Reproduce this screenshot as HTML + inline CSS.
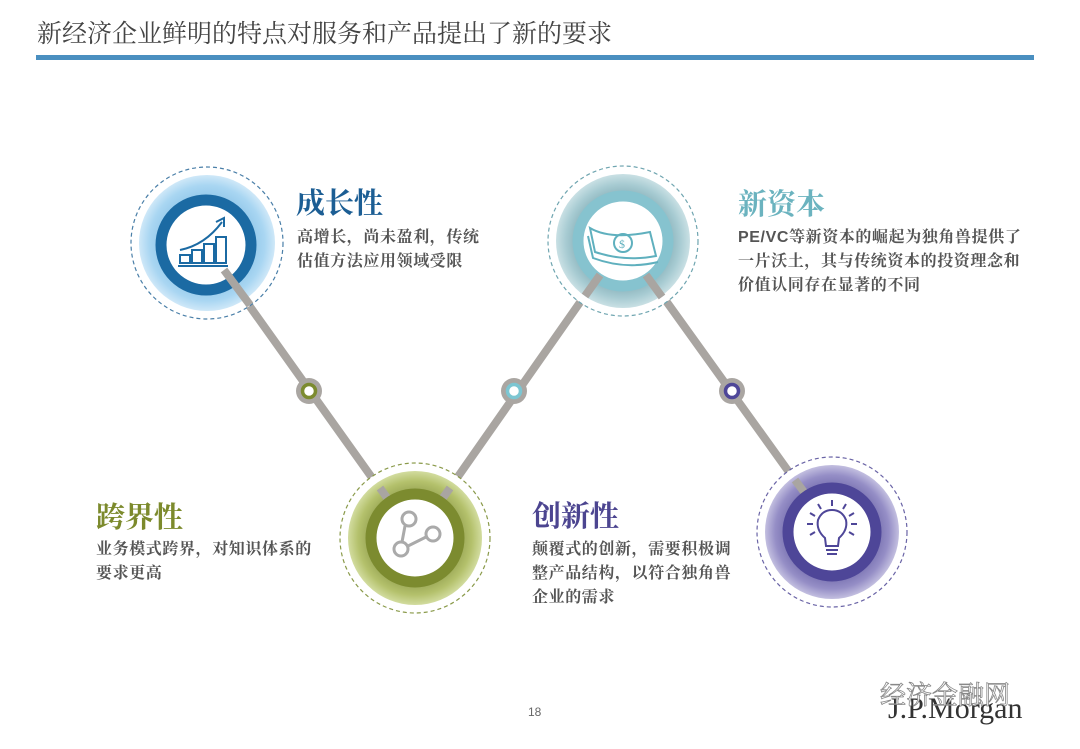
<!DOCTYPE html>
<html><head><meta charset="utf-8"><style>
html,body{margin:0;padding:0;background:#fff;}
body{width:1080px;height:744px;overflow:hidden;}
svg text{font-family:"Liberation Serif","Noto Serif CJK SC",serif;}
</style></head><body>
<svg width="1080" height="744" viewBox="0 0 1080 744" xmlns="http://www.w3.org/2000/svg">
<defs>
<radialGradient id="gb" cx="50%" cy="50%" r="50%"><stop offset="0.6" stop-color="#8cc4e8"/><stop offset="0.85" stop-color="#a9d6f2"/><stop offset="1" stop-color="#cfe8f8"/></radialGradient>
<radialGradient id="gt" cx="50%" cy="50%" r="50%"><stop offset="0.6" stop-color="#7fa9b2"/><stop offset="0.85" stop-color="#a7cbd2"/><stop offset="1" stop-color="#c9e0e4"/></radialGradient>
<radialGradient id="gg" cx="50%" cy="50%" r="50%"><stop offset="0.6" stop-color="#8d9a4a"/><stop offset="0.85" stop-color="#b4c16c"/><stop offset="1" stop-color="#d2dc9f"/></radialGradient>
<radialGradient id="gp" cx="50%" cy="50%" r="50%"><stop offset="0.6" stop-color="#6d66a8"/><stop offset="0.85" stop-color="#958ec6"/><stop offset="1" stop-color="#c3bfe0"/></radialGradient>
</defs>
<text x="37" y="42" font-size="25" fill="#444">新经济企业鲜明的特点对服务和产品提出了新的要求</text>
<rect x="36" y="55" width="998" height="5" fill="#4a8fc0"/>

<polyline points="206,245 415,538 623,241 832,532" fill="none" stroke="#a9a5a1" stroke-width="8"/>

<!-- C1 -->
<circle cx="207" cy="243" r="76" fill="#fff" stroke="#4a7fa8" stroke-width="1.2" stroke-dasharray="4,3"/>
<circle cx="207" cy="243" r="68" fill="url(#gb)"/>
<circle cx="206" cy="245" r="45" fill="#fff" stroke="#1b6aa3" stroke-width="11"/>
<line x1="224" y1="270" x2="250" y2="305" stroke="#a9a5a1" stroke-width="8"/>
<g fill="none" stroke="#1b6aa3" stroke-width="2">
<rect x="180" y="255" width="10" height="8"/><rect x="192" y="250" width="10" height="13"/><rect x="204" y="244" width="10" height="19"/><rect x="216" y="237" width="10" height="26"/>
<line x1="178" y1="266" x2="228" y2="266"/>
<path d="M180 250 Q205 245 222 222"/><path d="M216 222 L224 218 L224 227"/>
</g>

<!-- C2 -->
<circle cx="623" cy="241" r="75" fill="#fff" stroke="#6fa5b0" stroke-width="1.2" stroke-dasharray="4,3"/>
<circle cx="623" cy="241" r="67" fill="url(#gt)"/>
<circle cx="623" cy="241" r="45" fill="#fff" stroke="#86c3cf" stroke-width="11"/>
<line x1="600" y1="275" x2="585" y2="296" stroke="#a9a5a1" stroke-width="8"/>
<line x1="646" y1="275" x2="662" y2="297" stroke="#a9a5a1" stroke-width="8"/>
<g fill="none" stroke="#5fb0be" stroke-width="2">
<path d="M590 228 Q610 240 650 232 L656 256 Q625 262 595 252 Z"/>
<path d="M588 236 L593 258 Q625 270 658 262"/>
<circle cx="623" cy="243" r="9"/>
</g>
<text x="619" y="248" font-size="12" fill="#5fb0be" font-family="Liberation Sans">$</text>

<!-- C3 -->
<circle cx="415" cy="538" r="75" fill="#fff" stroke="#8a9a4a" stroke-width="1.2" stroke-dasharray="4,3"/>
<circle cx="415" cy="538" r="67" fill="url(#gg)"/>
<line x1="380" y1="488" x2="395" y2="509" stroke="#a9a5a1" stroke-width="8"/>
<line x1="450" y1="488" x2="435" y2="509" stroke="#a9a5a1" stroke-width="8"/>
<circle cx="415" cy="538" r="44" fill="#fff" stroke="#7c8b2f" stroke-width="11"/>
<g fill="none" stroke="#aaa" stroke-width="3">
<circle cx="409" cy="519" r="7"/><circle cx="433" cy="534" r="7"/><circle cx="401" cy="549" r="7"/>
<line x1="405" y1="526" x2="402" y2="542"/><line x1="408" y1="546" x2="426" y2="537"/>
</g>

<!-- C4 -->
<circle cx="832" cy="532" r="75" fill="#fff" stroke="#6a64a6" stroke-width="1.2" stroke-dasharray="4,3"/>
<circle cx="832" cy="532" r="67" fill="url(#gp)"/>
<line x1="795" y1="480" x2="810" y2="500" stroke="#a9a5a1" stroke-width="8"/>
<circle cx="832" cy="532" r="44" fill="#fff" stroke="#4e4698" stroke-width="11"/>
<g fill="none" stroke="#4e4698" stroke-width="2">
<path d="M826 546 L825 538 Q816 530 818 520 Q822 510 832 510 Q842 510 846 520 Q848 530 839 538 L838 546 Z"/>
<line x1="826" y1="550" x2="838" y2="550"/><line x1="827" y1="554" x2="837" y2="554"/>
<line x1="832" y1="500" x2="832" y2="506"/><line x1="818" y1="504" x2="821" y2="509"/><line x1="846" y1="504" x2="843" y2="509"/>
<line x1="810" y1="513" x2="815" y2="516"/><line x1="854" y1="513" x2="849" y2="516"/>
<line x1="807" y1="524" x2="813" y2="524"/><line x1="857" y1="524" x2="851" y2="524"/>
<line x1="810" y1="535" x2="815" y2="532"/><line x1="854" y1="535" x2="849" y2="532"/>
</g>

<!-- dots -->
<circle cx="309" cy="391" r="13" fill="#aaa6a2"/><circle cx="309" cy="391" r="6.5" fill="#fff" stroke="#7c8b2f" stroke-width="3.5"/>
<circle cx="514" cy="391" r="13" fill="#aaa6a2"/><circle cx="514" cy="391" r="6.5" fill="#fff" stroke="#7cc6d2" stroke-width="3.5"/>
<circle cx="732" cy="391" r="13" fill="#aaa6a2"/><circle cx="732" cy="391" r="6.5" fill="#fff" stroke="#4e4698" stroke-width="3.5"/>

<!-- texts -->
<g font-weight="bold">
<text x="296" y="213" font-size="29" fill="#1c5e94">成长性</text>
<text x="738" y="214" font-size="29" fill="#6bb3bf">新资本</text>
<text x="96" y="527" font-size="29" fill="#7c8a2c">跨界性</text>
<text x="532" y="526" font-size="29" fill="#4c4590">创新性</text>
</g>
<g font-size="16" fill="#555" font-weight="bold" letter-spacing="0.6">
<text x="297" y="242">高增长，尚未盈利，传统</text>
<text x="297" y="266">估值方法应用领域受限</text>
<text x="738" y="242"><tspan font-family="Liberation Sans">PE/VC</tspan>等新资本的崛起为独角兽提供了</text>
<text x="738" y="266">一片沃土，其与传统资本的投资理念和</text>
<text x="738" y="290">价值认同存在显著的不同</text>
<text x="96" y="554">业务模式跨界，对知识体系的</text>
<text x="96" y="578">要求更高</text>
<text x="532" y="554">颠覆式的创新，需要积极调</text>
<text x="532" y="578">整产品结构，以符合独角兽</text>
<text x="532" y="602">企业的需求</text>
</g>
<text x="528" y="716" font-size="12" fill="#666" font-family="Liberation Sans" style="font-family:'Liberation Sans',sans-serif">18</text>
<text x="888" y="718" font-size="30" fill="#333">J.P.Morgan</text>
<text x="880" y="704" font-size="26" fill="#fff" stroke="#888" stroke-width="0.8">经济金融网</text>
</svg>
</body></html>
